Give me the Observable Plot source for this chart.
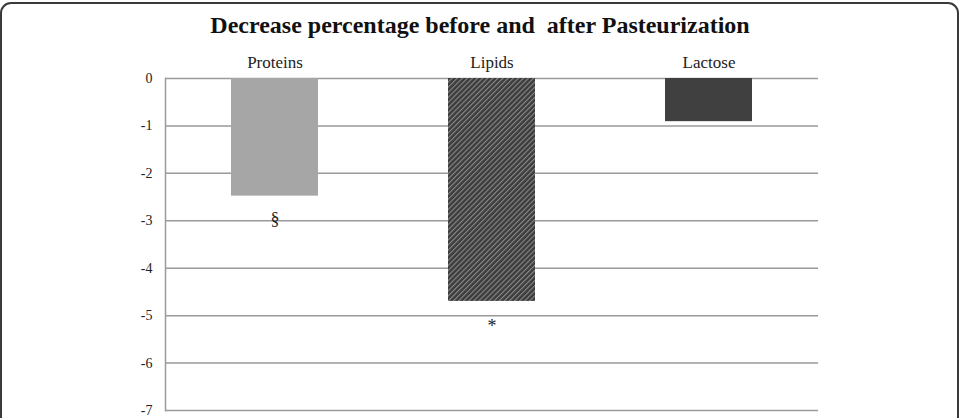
<!DOCTYPE html>
<html>
<head>
<meta charset="utf-8">
<script src="https://cdn.jsdelivr.net/npm/d3@7"></script>
<script src="https://cdn.jsdelivr.net/npm/@observablehq/plot@0.6"></script>
<style>
  html, body { margin: 0; padding: 0; background: #fff; overflow: hidden; }
  #wrap { position: relative; width: 963px; height: 418px; overflow: hidden; }
  #wrap svg, #wrap svg text { font-family: "Liberation Serif", "Times New Roman", serif !important; }
  #border { position: absolute; left: 0px; top: 2px; width: 959px; height: 440px;
    border: 2px solid #3a3a3a; border-radius: 11px; box-sizing: border-box; pointer-events: none; }
  #title { position: absolute; left: 0; top: 13px; width: 960px; text-align: center;
    font-family: "Liberation Serif", "Times New Roman", serif; font-weight: bold; font-size: 24px;
    line-height: 24px; color: #111; white-space: pre; }
</style>
</head>
<body>
<div id="wrap">
  <div id="title"></div>
  <div id="border"></div>
</div>
<script>
const title = "Decrease percentage before and  after Pasteurization";
const categories = ["Proteins", "Lipids", "Lactose"];
const values = [-2.48, -4.7, -0.91];
const fills = ["#a6a6a6", "url(#hatch)", "#404040"];
const yTicks = [0, -1, -2, -3, -4, -5, -6, -7];
const markLabels = ["§", "*"];
const markCategories = ["Proteins", "Lipids"];
const markY = [-2.97, -5.22];

const bars = categories.map((c, i) => ({category: c, value: values[i], fill: fills[i]}));
const marks = markLabels.map((m, i) => ({label: m, category: markCategories[i], y: markY[i]}));

document.getElementById("title").textContent = title;

const chart = Plot.plot({
  width: 963,
  height: 418,
  marginTop: 78,
  marginBottom: 8,
  marginLeft: 165,
  marginRight: 145,
  style: {fontFamily: "'Liberation Serif', 'Times New Roman', serif", fontSize: "15px", color: "#222", background: "transparent"},
  x: {domain: categories, paddingInner: 0.6, paddingOuter: 0.3, label: null},
  y: {domain: [-7, 0], label: null},
  marks: [
    Plot.gridY(yTicks, {stroke: "#9a9a9a", strokeOpacity: 1, strokeWidth: 1.5}),
    Plot.frame({anchor: "left", stroke: "#9a9a9a", strokeWidth: 1.5}),
    Plot.barY(bars, {x: "category", y: "value", fill: "fill"}),
    Plot.axisY(yTicks, {tickSize: 0, tickPadding: 13, fontSize: 14, label: null, tickFormat: d => d === 0 ? "0" : String(d).replace("−", "-")}),
    Plot.axisX({anchor: "top", tickSize: 0, tickPadding: 11, fontSize: 17, label: null}),
    Plot.text(marks, {x: "category", y: "y", text: "label", fontSize: 18, fill: "#222"})
  ]
});

// hatch pattern for Lipids bar
const ns = "http://www.w3.org/2000/svg";
const defs = document.createElementNS(ns, "defs");
defs.innerHTML = `<pattern id="hatch" patternUnits="userSpaceOnUse" width="3.6" height="3.6" patternTransform="rotate(45)">
  <rect width="3.6" height="3.6" fill="#3c3c3c"></rect>
  <rect x="0" y="0" width="1.1" height="3.6" fill="#8a8a8a"></rect>
</pattern>`;
chart.insertBefore(defs, chart.firstChild);

const wrap = document.getElementById("wrap");
wrap.insertBefore(chart, wrap.firstChild);
</script>
</body>
</html>
